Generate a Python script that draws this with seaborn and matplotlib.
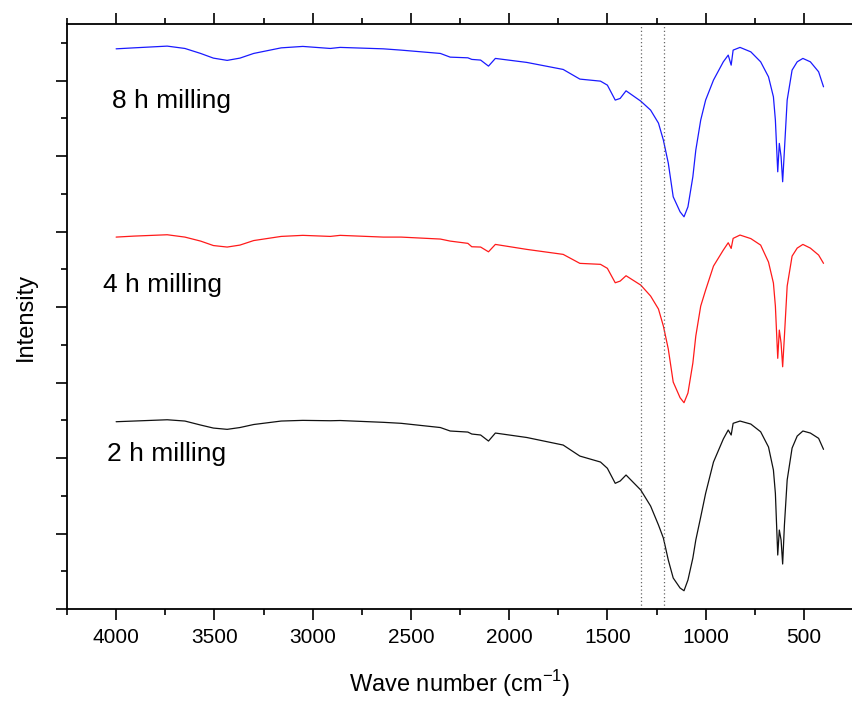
import matplotlib
matplotlib.use("Agg")
import matplotlib.pyplot as plt
from matplotlib.ticker import MultipleLocator, NullFormatter
import pandas as pd
import seaborn as sns

# wave numbers (cm-1) shared by the three spectra
wavenumber = [4000, 3910, 3740, 3650, 3570, 3505, 3435, 3370, 3300, 3160, 3050,
              2910, 2860, 2640, 2550, 2350, 2300, 2210, 2190, 2145, 2105, 2070,
              1910, 1725, 1640, 1535, 1500, 1460, 1435, 1405, 1330, 1280, 1240,
              1215, 1190, 1165, 1130, 1110, 1090, 1065, 1050, 1025, 1000, 960,
              910, 885, 870, 860, 825, 770, 720, 680, 655, 645, 633, 625, 616,
              608, 599, 585, 560, 534, 505, 467, 425, 400]

int_8h = [7.421, 7.434, 7.457, 7.426, 7.360, 7.298, 7.268, 7.298, 7.360, 7.434,
          7.453, 7.426, 7.440, 7.421, 7.404,
          7.360, 7.311, 7.302, 7.281, 7.272, 7.192, 7.294, 7.241, 7.148, 7.020,
          6.993, 6.940, 6.742, 6.764, 6.865, 6.728,
          6.609, 6.437, 6.212, 5.907, 5.461, 5.262, 5.196, 5.328, 5.726, 6.079,
          6.477, 6.742,
          7.007, 7.249, 7.338, 7.205, 7.404, 7.440, 7.381, 7.249, 7.050, 6.785,
          6.477, 5.792, 6.168, 5.991, 5.660, 6.079, 6.742, 7.139, 7.249, 7.294,
          7.249, 7.117, 6.918]

int_4h = [4.927, 4.940, 4.958, 4.927, 4.874, 4.815, 4.795, 4.821, 4.881, 4.936,
          4.950, 4.936, 4.950, 4.927, 4.927,
          4.901, 4.874, 4.844, 4.799, 4.795, 4.732, 4.830, 4.764, 4.698, 4.579,
          4.566, 4.513, 4.322, 4.344, 4.415, 4.291,
          4.146, 3.974, 3.748, 3.444, 3.007, 2.799, 2.733, 2.861, 3.258, 3.616,
          4.013, 4.225,
          4.543, 4.755, 4.852, 4.777, 4.910, 4.954, 4.907, 4.821, 4.596, 4.318,
          4.013, 3.321, 3.695, 3.523, 3.209, 3.616, 4.278, 4.675, 4.781, 4.830,
          4.781, 4.689, 4.579]

int_2h = [2.481, 2.490, 2.507, 2.490, 2.437, 2.397, 2.380, 2.404, 2.444, 2.490,
          2.499, 2.494, 2.497, 2.473, 2.460,
          2.404, 2.358, 2.344, 2.318, 2.305, 2.225, 2.331, 2.272, 2.172, 2.026,
          1.947, 1.864, 1.665, 1.695, 1.775, 1.576,
          1.364, 1.113, 0.940, 0.649, 0.411, 0.278, 0.242, 0.384, 0.675, 0.914,
          1.219, 1.532,
          1.947, 2.252, 2.371, 2.305, 2.460, 2.490, 2.450, 2.348, 2.146, 1.841,
          1.532, 0.715, 1.046, 0.914, 0.596, 1.113, 1.709, 2.132, 2.291, 2.358,
          2.331, 2.261, 2.115]

labels = ["8 h milling", "4 h milling", "2 h milling"]
colors = ["#1a1aff", "#ff1a1a", "#111111"]
label_pos = [(4019, 6.73), (4065, 4.29), (4044, 2.05)]
marker_lines = [1330, 1210]

sns.set_style("ticks")
plt.rcParams['font.family'] = ['Liberation Sans', 'DejaVu Sans']
plt.rcParams['text.color'] = 'black'
plt.rcParams['axes.labelcolor'] = 'black'
plt.rcParams['xtick.color'] = 'black'
plt.rcParams['ytick.color'] = 'black'
plt.rcParams['axes.edgecolor'] = 'black'

fig = plt.figure(figsize=(8.52, 7.02), dpi=100)
ax = fig.add_axes([67/852, 1-609/702, 786/852, 585/702])

for ys, c in zip([int_8h, int_4h, int_2h], colors):
    df = pd.DataFrame({"wn": wavenumber, "I": ys})
    sns.lineplot(data=df, x="wn", y="I", color=c, lw=0.9, estimator=None, ax=ax)

for xv in marker_lines:
    ax.axvline(xv, color="#666666", ls=(0, (1, 2)), lw=0.9)

for txt, (x, y) in zip(labels, label_pos):
    ax.text(x, y, txt, fontsize=19, ha="left", va="center")

ax.set_xlim(4250, 250)
ax.set_ylim(0, 7.75)
ax.xaxis.set_major_locator(MultipleLocator(500))
ax.xaxis.set_minor_locator(MultipleLocator(250))
ax.yaxis.set_major_locator(MultipleLocator(1))
ax.yaxis.set_minor_locator(MultipleLocator(0.5))
ax.yaxis.set_major_formatter(NullFormatter())
ax.tick_params(which="major", direction="out", length=8, width=1.2,
               top=True, labelsize=15, pad=6)
ax.tick_params(which="minor", direction="out", length=4.5, width=1.2, top=True)
for s in ax.spines.values():
    s.set_linewidth(1.3)
ax.spines["right"].set_visible(False)

ax.set_xlabel("Wave number (cm$^{\\mathregular{-1}}$)", fontsize=17, labelpad=15)
ax.set_ylabel("Intensity", fontsize=17, labelpad=8)

fig.savefig("out.png", dpi=100)
